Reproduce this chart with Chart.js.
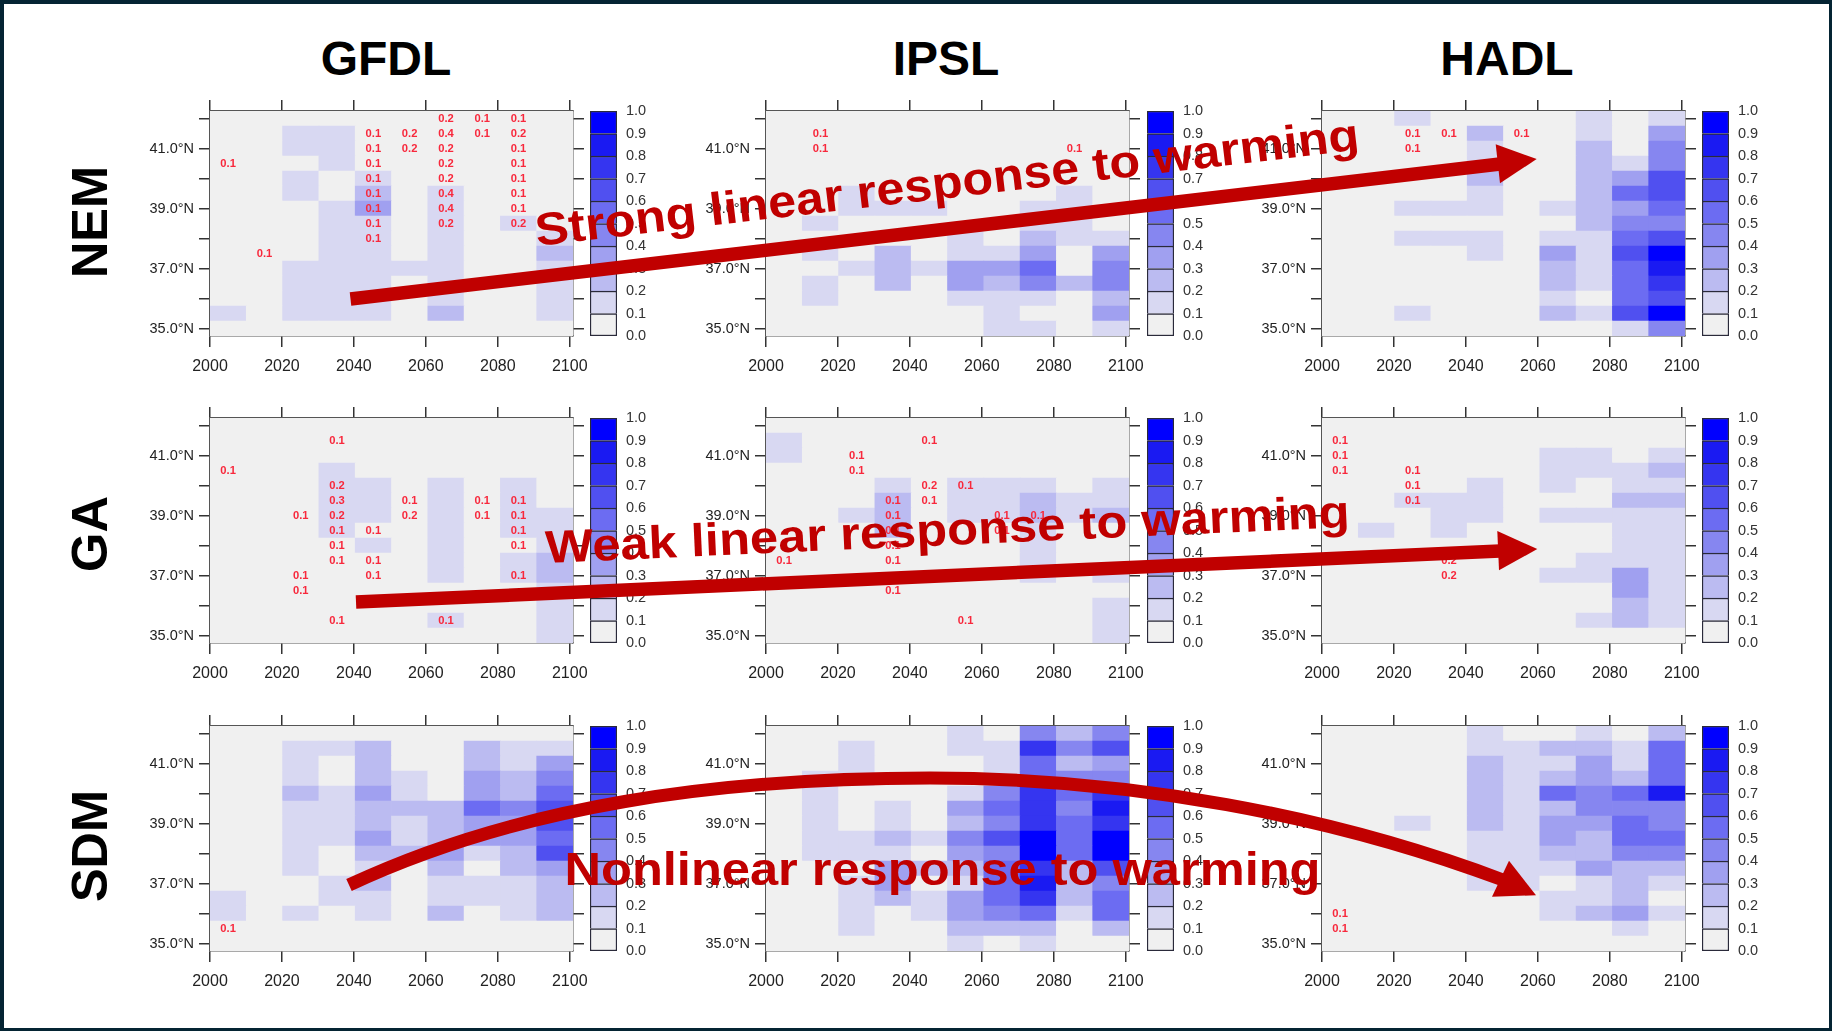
<!DOCTYPE html>
<html><head><meta charset="utf-8">
<script src="https://cdn.jsdelivr.net/npm/chart.js@4"></script>
<style>
html,body{margin:0;padding:0;background:#fff;}
body{width:1832px;height:1031px;position:relative;overflow:hidden;font-family:"Liberation Sans",Arial,sans-serif;}
#frame{position:absolute;left:0;top:0;width:1832px;height:1031px;box-sizing:border-box;border:solid #042433;border-width:4px 3px 3px 4px;z-index:5;pointer-events:none;}
canvas{position:absolute;filter:blur(0.45px);}
.title{position:absolute;font-weight:700;font-size:48px;line-height:48px;color:#000;white-space:nowrap;transform:translateX(-50%);}
.rowlab{position:absolute;font-weight:700;font-size:50.5px;line-height:50px;color:#000;white-space:nowrap;transform:translate(-50%,-50%) rotate(-90deg);}
svg{position:absolute;left:0;top:0;z-index:4;}
svg text{font-family:"Liberation Sans",Arial,sans-serif;font-weight:700;fill:#c00000;}
</style></head><body>
<div id="frame"></div>
<script>
// Axis content
const yearTicks=[2000,2020,2040,2060,2080,2100];
const latTicks=[35,36,37,38,39,40,41,42];
const latLabels={35:'35.0°N',37:'37.0°N',39:'39.0°N',41:'41.0°N'};
const barLevels=[0,.1,.2,.3,.4,.5,.6,.7,.8,.9,1];
const palette=['#f0f0f0','#d8d8f2','#bbbbf1','#a0a0f0','#8686f0','#6c6cf2','#5050f0','#3535f0','#1a1af2','#0000ff'];
const models=['GFDL','IPSL','HADL'];
const responses=['NEM','GA','SDM'];
const rowLats=[42,41.5,41,40.5,40,39.5,39,38.5,38,37.5,37,36.5,36,35.5,35];
const columnCount=10;

// Cell values, in tenths, rows from 42.0N down to 35.0N, columns from the 2000s to the 2090s
const nemGfdl=[[0,0,0,0,0,0,0,0,0,0],[0,0,1,1,0,0,0,0,0,0],[0,0,1,1,0,0,0,0,0,0],[0,0,0,1,0,0,0,0,0,0],[0,0,1,0,1,0,0,0,0,0],[0,0,1,0,2,0,1,0,0,0],[0,0,0,1,3,0,1,0,0,0],[0,0,0,1,1,0,1,0,1,0],[0,0,0,1,1,0,1,0,0,1],[0,0,0,1,1,0,1,0,0,2],[0,0,1,1,1,1,1,0,0,1],[0,0,1,1,1,0,1,0,0,1],[0,0,1,1,1,0,1,0,0,1],[1,0,1,1,1,0,2,0,0,1],[0,0,0,0,0,0,0,0,0,0]];
const nemIpsl=[[0,0,0,0,0,0,0,0,0,0],[0,0,0,0,0,0,0,0,0,0],[0,0,0,0,0,0,0,0,0,0],[0,0,0,0,0,0,0,0,0,0],[0,0,0,0,0,0,0,0,0,0],[0,0,1,0,0,0,0,0,1,0],[0,0,1,1,1,0,0,1,1,0],[0,1,0,0,0,0,0,1,1,0],[0,0,0,0,0,1,0,2,1,1],[0,1,0,2,0,1,1,3,0,3],[0,0,1,2,1,3,3,5,0,4],[0,1,0,2,0,3,2,4,2,4],[0,1,0,0,0,1,1,1,0,2],[0,0,0,0,0,0,1,0,0,3],[0,0,0,0,0,0,1,1,0,1]];
const nemHadl=[[0,0,1,0,0,0,0,1,0,1],[0,0,0,0,2,0,0,1,0,3],[0,0,0,0,1,0,0,2,0,4],[0,0,0,0,1,0,0,2,1,4],[0,0,0,0,2,0,0,2,3,6],[0,0,0,0,1,0,0,2,5,6],[0,0,1,1,1,0,1,2,3,5],[0,0,0,0,0,0,0,2,4,4],[0,0,1,1,1,0,1,1,5,6],[0,0,0,0,1,0,3,1,6,9],[0,0,0,0,0,0,2,1,5,8],[0,0,0,0,0,0,2,1,5,7],[0,0,0,0,0,0,1,0,5,6],[0,0,1,0,0,0,2,1,6,9],[0,0,0,0,0,0,0,0,1,4]];
const gaGfdl=[[0,0,0,0,0,0,0,0,0,0],[0,0,0,0,0,0,0,0,0,0],[0,0,0,0,0,0,0,0,0,0],[0,0,0,1,0,0,0,0,0,0],[0,0,0,1,1,0,1,0,1,0],[0,0,0,1,1,0,1,0,1,0],[0,0,0,1,1,0,1,0,1,1],[0,0,0,1,0,0,1,0,1,1],[0,0,0,0,1,0,1,0,0,1],[0,0,0,0,0,0,1,0,1,2],[0,0,0,0,0,0,1,0,1,2],[0,0,0,0,0,0,0,0,0,1],[0,0,0,0,0,0,0,0,0,1],[0,0,0,0,0,0,1,0,0,1],[0,0,0,0,0,0,0,0,0,1]];
const gaIpsl=[[0,0,0,0,0,0,0,0,0,0],[1,0,0,0,0,0,0,0,0,0],[1,0,0,0,0,0,0,0,0,0],[0,0,0,0,0,0,0,0,0,0],[0,0,0,1,0,1,1,1,0,1],[0,0,0,2,0,1,1,2,1,1],[0,0,1,2,0,1,1,2,1,2],[0,0,0,2,0,0,0,1,0,0],[0,0,0,0,0,0,0,1,0,0],[0,0,0,0,0,0,0,1,0,0],[0,0,0,0,0,0,0,1,0,1],[0,0,0,0,0,0,0,0,0,0],[0,0,0,0,0,0,0,0,0,1],[0,0,0,0,0,0,0,0,0,1],[0,0,0,0,0,0,0,0,0,1]];
const gaHadl=[[0,0,0,0,0,0,0,0,0,0],[0,0,0,0,0,0,0,0,0,0],[0,0,0,0,0,0,1,1,0,1],[0,0,0,0,0,0,1,1,1,2],[0,0,0,0,1,0,1,0,1,1],[0,0,1,1,1,0,0,0,2,2],[0,0,0,1,1,0,1,1,1,1],[0,1,0,1,0,0,0,0,1,1],[0,0,0,0,0,0,0,0,1,1],[0,0,0,0,0,0,0,1,1,1],[0,0,0,0,0,0,1,1,3,1],[0,0,0,0,0,0,0,0,3,1],[0,0,0,0,0,0,0,0,2,1],[0,0,0,0,0,0,0,1,2,1],[0,0,0,0,0,0,0,0,0,0]];
const sdmGfdl=[[0,0,0,0,0,0,0,0,0,0],[0,0,1,1,2,0,0,2,1,1],[0,0,1,0,2,0,0,2,1,3],[0,0,1,0,2,1,0,3,2,4],[0,0,2,1,3,1,0,3,2,5],[0,0,1,1,2,2,2,5,4,6],[0,0,1,1,2,1,2,3,3,6],[0,0,1,1,3,1,2,3,3,5],[0,0,1,0,2,2,3,1,2,6],[0,0,1,0,1,0,2,0,2,3],[0,0,0,1,2,0,1,1,1,2],[1,0,0,1,1,0,1,1,1,2],[1,0,1,0,1,0,2,0,1,2],[0,0,0,0,0,0,0,0,0,0],[0,0,0,0,0,0,0,0,0,0]];
const sdmIpsl=[[0,0,0,0,0,1,0,4,2,4],[0,0,1,0,0,1,1,7,4,6],[0,0,1,0,0,0,1,5,2,3],[0,1,1,0,0,0,1,5,4,4],[0,1,0,0,0,1,4,7,5,7],[0,1,0,1,0,3,5,7,4,8],[0,1,0,1,0,2,4,7,5,7],[0,1,1,2,1,4,6,9,5,9],[0,1,1,1,0,3,4,9,5,9],[0,0,0,3,2,2,5,7,2,6],[0,0,1,3,0,1,5,8,2,4],[0,0,1,2,1,3,5,7,2,5],[0,0,1,0,1,3,4,5,1,5],[0,0,1,0,0,2,2,2,0,2],[0,0,0,0,0,1,0,1,0,0]];
const sdmHadl=[[0,0,0,0,1,0,0,1,0,2],[0,0,0,0,1,1,2,2,1,5],[0,0,0,0,2,1,1,3,1,5],[0,0,0,0,2,1,2,3,2,5],[0,0,0,0,2,1,5,4,5,8],[0,0,0,0,2,1,2,4,4,4],[0,0,1,0,2,1,3,3,5,4],[0,0,0,0,1,1,3,2,5,5],[0,0,0,0,1,1,2,2,4,4],[0,0,0,0,1,1,1,3,2,2],[0,0,0,0,1,1,0,1,2,1],[0,0,0,0,0,0,1,1,2,0],[0,0,0,0,0,0,1,2,3,1],[0,0,0,0,0,0,0,0,1,0],[0,0,0,0,0,0,0,0,0,0]];

// Red numbers written in the cells: column, row, value
const nemGfdlNotes=[[0,3,.1],[1,9,.1],[4,1,.1],[4,2,.1],[4,3,.1],[4,4,.1],[4,5,.1],[4,6,.1],[4,7,.1],[4,8,.1],[5,1,.2],[5,2,.2],[6,0,.2],[6,1,.4],[6,2,.2],[6,3,.2],[6,4,.2],[6,5,.4],[6,6,.4],[6,7,.2],[7,0,.1],[7,1,.1],[8,0,.1],[8,1,.2],[8,2,.1],[8,3,.1],[8,4,.1],[8,5,.1],[8,6,.1],[8,7,.2]];
const nemIpslNotes=[[1,1,.1],[1,2,.1],[8,2,.1]];
const nemHadlNotes=[[2,1,.1],[2,2,.1],[3,1,.1],[5,1,.1]];
const gaGfdlNotes=[[0,3,.1],[2,6,.1],[2,10,.1],[2,11,.1],[3,1,.1],[3,4,.2],[3,5,.3],[3,6,.2],[3,7,.1],[3,8,.1],[3,9,.1],[3,13,.1],[4,7,.1],[4,9,.1],[4,10,.1],[5,5,.1],[5,6,.2],[6,13,.1],[7,5,.1],[7,6,.1],[8,5,.1],[8,6,.1],[8,7,.1],[8,8,.1],[8,10,.1]];
const gaIpslNotes=[[0,9,.1],[2,2,.1],[2,3,.1],[3,5,.1],[3,6,.1],[3,7,.1],[3,8,.1],[3,9,.1],[3,11,.1],[4,1,.1],[4,4,.2],[4,5,.1],[5,4,.1],[5,13,.1],[6,6,.1],[6,7,.1],[7,6,.1]];
const gaHadlNotes=[[0,1,.1],[0,2,.1],[0,3,.1],[2,3,.1],[2,4,.1],[2,5,.1],[3,9,.2],[3,10,.2]];
const sdmGfdlNotes=[[0,13,.1]];
const sdmIpslNotes=[];
const sdmHadlNotes=[[0,12,.1],[0,13,.1]];

const xMin=2000,xMax=2100.9,yMin=34.75,yMax=42.25;
const cellYears=(xMax-xMin)/columnCount;
const FONT='"Liberation Sans",Arial,sans-serif';
const TICK='#333';

function addCanvas(l,t,w,h){const c=document.createElement('canvas');c.width=w;c.height=h;c.style.left=l+'px';c.style.top=t+'px';c.style.width=w+'px';c.style.height=h+'px';document.body.appendChild(c);return c;}

function axisLook(){return {grid:{drawOnChartArea:false,drawTicks:true,tickLength:11,color:TICK,lineWidth:1.5,offset:false},border:{display:true,color:'#555',width:1.5}};}
function setTicks(list){return s=>{s.ticks=list.map(v=>({value:v}));};}

function panel(left,top,grid,notes){
  const W=363,H=225,mL=70,mR=30,mT=20,mB=44;
  const cells=[],colors=[];
  grid.forEach((row,r)=>row.forEach((v,c)=>{
    cells.push({x:xMin+(c+.5)*cellYears,y:[rowLats[r]-.25,rowLats[r]+.25]});
    colors.push(palette[v]);
  }));
  const noteWriter={id:'noteWriter',
    beforeDatasetsDraw(ch){const a=ch.chartArea,ctx=ch.ctx;ctx.save();ctx.fillStyle=palette[0];ctx.fillRect(a.left,a.top,a.right-a.left,a.bottom-a.top);ctx.restore();},
    afterDatasetsDraw(ch){const ctx=ch.ctx;ctx.save();ctx.font='bold 11.2px '+FONT;ctx.fillStyle='#f8283c';ctx.textAlign='center';ctx.textBaseline='middle';
      notes.forEach(n=>{ctx.fillText(n[2].toFixed(1),ch.scales.x.getPixelForValue(xMin+(n[0]+.5)*cellYears),ch.scales.y.getPixelForValue(rowLats[n[1]]));});ctx.restore();}
  };
  new Chart(addCanvas(left-mL,top-mT,mL+W+mR,mT+H+mB),{type:'bar',
    data:{datasets:[{data:cells,backgroundColor:colors,borderWidth:0,barPercentage:1,categoryPercentage:1,xAxisID:'x',yAxisID:'y'}]},
    plugins:[noteWriter],
    options:{responsive:false,animation:false,devicePixelRatio:1,events:[],layout:{padding:0},
      plugins:{legend:{display:false},tooltip:{enabled:false}},
      scales:{
        x:{type:'linear',position:'bottom',min:xMin,max:xMax,offset:false,...axisLook(),afterBuildTicks:setTicks(yearTicks),afterFit:s=>{s.height=mB;},
           ticks:{autoSkip:false,maxRotation:0,minRotation:0,padding:10,color:'#222',font:{size:16,family:FONT},callback:v=>String(v)}},
        xTop:{type:'linear',position:'top',min:xMin,max:xMax,offset:false,...axisLook(),afterBuildTicks:setTicks(yearTicks),afterFit:s=>{s.height=mT;},ticks:{display:false}},
        y:{type:'linear',position:'left',min:yMin,max:yMax,...axisLook(),afterBuildTicks:setTicks(latTicks),afterFit:s=>{s.width=mL;},
           ticks:{autoSkip:false,padding:5,color:'#222',font:{size:14.5,family:FONT},callback:v=>latLabels[v]||''}},
        yRight:{type:'linear',position:'right',min:yMin,max:yMax,...axisLook(),afterBuildTicks:setTicks(latTicks),afterFit:s=>{s.width=mR;},ticks:{display:false}}
      }}});
}

function colorbar(left,top){
  const W=27,H=225,pad=10,labelW=42;
  const sets=palette.map((col,i)=>({data:[[barLevels[i],barLevels[i+1]]],backgroundColor:col,borderColor:'#2a2a3a',borderSkipped:false,
    borderWidth:{top:1.5,left:1.5,right:1.5,bottom:i===0?1.5:0},barPercentage:1,categoryPercentage:1,grouped:false}));
  new Chart(addCanvas(left,top-pad,W+labelW,H+2*pad),{type:'bar',
    data:{labels:['probability'],datasets:sets},
    options:{responsive:false,animation:false,devicePixelRatio:1,events:[],layout:{padding:{top:pad,bottom:pad}},
      plugins:{legend:{display:false},tooltip:{enabled:false}},
      scales:{x:{display:false,stacked:false},
        y:{type:'linear',position:'right',min:0,max:1,grid:{display:false},border:{display:false},afterBuildTicks:setTicks(barLevels),
           afterFit:s=>{s.width=labelW;s.paddingTop=0;s.paddingBottom=0;},
           ticks:{padding:1,color:'#333',font:{size:14.5,family:FONT},callback:v=>v.toFixed(1)}}}}});
}

const panelLeft=[210,766,1322],panelTop=[111,418,726],barLeft=[590,1147,1702];
const gridTable=[[nemGfdl,nemIpsl,nemHadl],[gaGfdl,gaIpsl,gaHadl],[sdmGfdl,sdmIpsl,sdmHadl]];
const noteTable=[[nemGfdlNotes,nemIpslNotes,nemHadlNotes],[gaGfdlNotes,gaIpslNotes,gaHadlNotes],[sdmGfdlNotes,sdmIpslNotes,sdmHadlNotes]];
gridTable.forEach((row,r)=>row.forEach((g,c)=>{panel(panelLeft[c],panelTop[r],g,noteTable[r][c]);colorbar(barLeft[c],panelTop[r]);}));

// Headings
const titleCentre=[386,946,1507];
models.forEach((m,i)=>{const d=document.createElement('div');d.className='title';d.textContent=m;d.style.left=titleCentre[i]+'px';d.style.top='35px';document.body.appendChild(d);});
const rowCentre=[222,534,846];
responses.forEach((m,i)=>{const d=document.createElement('div');d.className='rowlab';d.textContent=m;d.style.left='90px';d.style.top=rowCentre[i]+'px';document.body.appendChild(d);});
</script>
<svg width="1832" height="1031" viewBox="0 0 1832 1031">
  <line x1="350.5" y1="299" x2="1500" y2="164" stroke="#c00000" stroke-width="13.5"/>
  <polygon points="1536.7,159 1495.7,144.3 1500,183.3" fill="#c00000"/>
  <line x1="356" y1="602" x2="1500" y2="551" stroke="#c00000" stroke-width="13.5"/>
  <polygon points="1537.3,549 1497.3,531 1499,570.3" fill="#c00000"/>
  <path d="M349,885 C520,805 720,778 930,778 C1130,778 1330,815 1503,880" fill="none" stroke="#c00000" stroke-width="13"/>
  <polygon points="1536,895.3 1509,860.7 1492,896.7" fill="#c00000"/>
  <text x="537" y="246" font-size="46" textLength="829" lengthAdjust="spacingAndGlyphs" transform="rotate(-6.67 537 246)">Strong linear response to warming</text>
  <text x="546" y="563" font-size="46" textLength="805" lengthAdjust="spacingAndGlyphs" transform="rotate(-2.56 546 563)">Weak linear response to warming</text>
  <text x="564.5" y="885" font-size="46" textLength="756" lengthAdjust="spacingAndGlyphs">Nonlinear response to warming</text>
</svg>
</body></html>
